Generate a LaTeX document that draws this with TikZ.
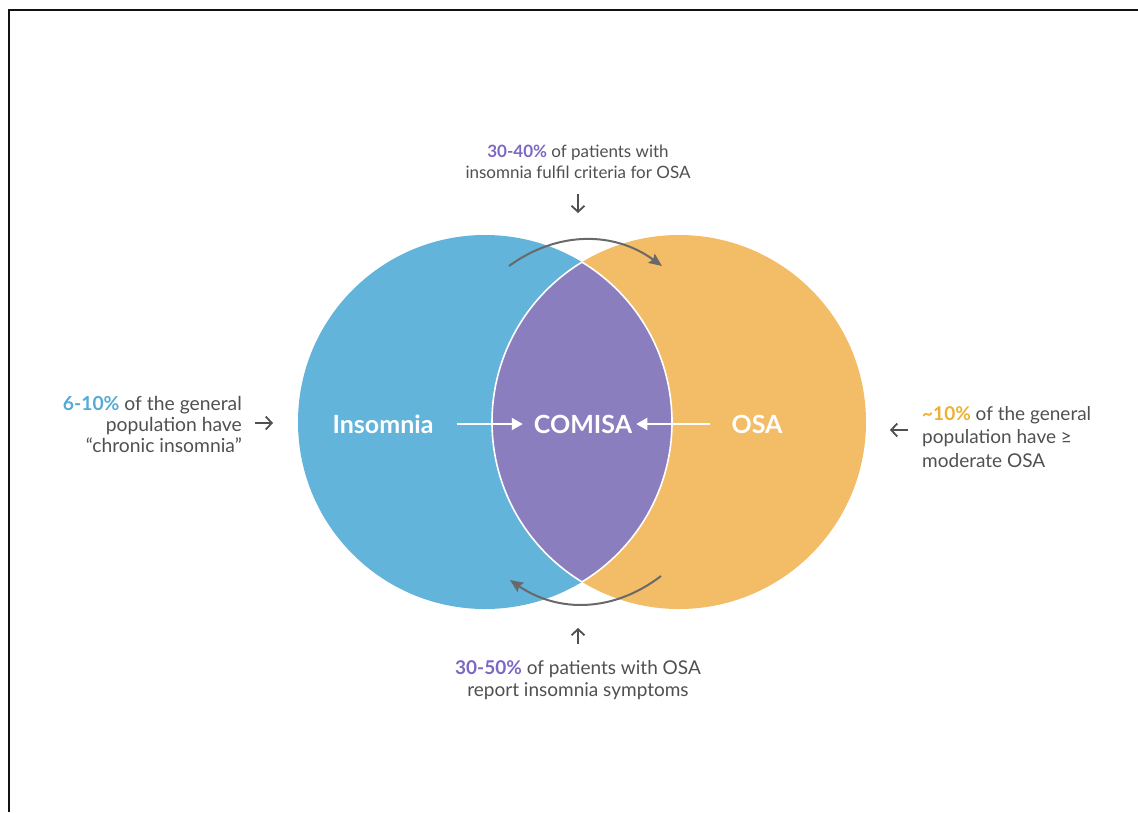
\documentclass[tikz,border=0pt]{standalone}
\usepackage{fontspec}
\setmainfont{Lato}
\usetikzlibrary{arrows.meta,positioning}

\definecolor{insblue}{RGB}{98,180,218}
\definecolor{osaorange}{RGB}{243,188,102}
\definecolor{comisapurple}{RGB}{139,126,190}
\definecolor{notegray}{RGB}{80,80,80}
\definecolor{arcgray}{RGB}{105,105,105}
\definecolor{pctpurple}{RGB}{124,104,196}
\definecolor{pctblue}{RGB}{86,170,212}
\definecolor{pctorange}{RGB}{236,176,52}

\tikzset{
  venn/.style={circle, minimum size=374pt, inner sep=0pt},
  setname/.style={text=white, font=\fontsize{25}{30}\selectfont\bfseries, inner sep=0pt},
  note/.style={text=notegray, font=\fontsize{17}{21}\selectfont, inner sep=0pt},
  pointer/.style={draw=notegray, line width=1.8pt, -{Straight Barb[length=6pt,width=13pt]}},
  swing/.style={draw=arcgray, line width=2pt, -{Stealth[length=13pt,width=11pt,inset=2pt]}},
  merge/.style={draw=white, line width=2pt, -{Triangle[length=11pt,width=12pt]}},
}

\newcommand{\pct}[2]{\textcolor{#1}{\textbf{#2}}}

\begin{document}
\begin{tikzpicture}[x=1pt, y=-1pt]
  \useasboundingbox (0,0) rectangle (1138,812);
  % frame
  \draw[line width=2.5pt, color=black!93] (9,812) -- (9,10) -- (1138,10);

  % the two sets
  \node[venn, fill=insblue] (insc) at (485,422) {};
  \node[venn, fill=osaorange] (osac) at (679,422) {};
  % overlap, with a thin white rim
  \begin{scope}
    \clip (insc.center) circle (187);
    \fill[comisapurple] (osac.center) circle (187);
    \draw[white, line width=1.6pt] (osac.center) circle (187);
  \end{scope}
  \begin{scope}
    \clip (osac.center) circle (187);
    \draw[white, line width=1.6pt] (insc.center) circle (187);
  \end{scope}

  % set names
  \node[setname] (ins) at (383,424) {Insomnia};
  \node[setname] (com) at (583,424) {COMISA};
  \node[setname] (osa) at (757,424) {OSA};
  \draw[merge, shorten <=23pt, shorten >=11pt] (ins) -- (com);
  \draw[merge, shorten <=21pt, shorten >=4pt] (osa) -- (com);

  % curved arrows across the overlap
  \coordinate (swingA) at (509,266);
  \coordinate (swingB) at (662,266);
  \coordinate (swingC) at (661,576);
  \coordinate (swingD) at (510,580);
  \draw[swing] (swingA) to[bend left=36] (swingB);
  \draw[swing] (swingC) to[bend left=36] (swingD);

  % notes
  \node[note, align=center] (topnote) at (578,162)
    {\pct{pctpurple}{30-40\%} of patients with\\insomnia fulfil criteria for OSA};
  \node[note, align=center, font=\fontsize{19}{22}\selectfont] (botnote) at (578,680)
    {\pct{pctpurple}{30-50\%} of patients with OSA\\report insomnia symptoms};
  \node[note, align=right, anchor=east, font=\fontsize{19.3}{21}\selectfont] (leftnote) at (242,424)
    {\pct{pctblue}{6-10\%} of the general\\population have\\``chronic insomnia''};
  \node[note, align=left, anchor=west, font=\fontsize{19}{23.5}\selectfont] (rightnote) at (922,437)
    {\pct{pctorange}{\textasciitilde10\%} of the general\\population have ≥\\moderate OSA};

  % pointers
  \coordinate (toptip) at (578,213);
  \coordinate (bottip) at (578,628);
  \coordinate (lefttip) at (273,423);
  \coordinate (righttip) at (890,430);
  \draw[pointer, shorten <=15pt] (topnote.south) -- (toptip);
  \draw[pointer, shorten <=16pt] (botnote.north) -- (bottip);
  \draw[pointer, shorten <=13pt] (leftnote.east |- lefttip) -- (lefttip);
  \draw[pointer, shorten <=14pt] (rightnote.west |- righttip) -- (righttip);
\end{tikzpicture}
\end{document}
